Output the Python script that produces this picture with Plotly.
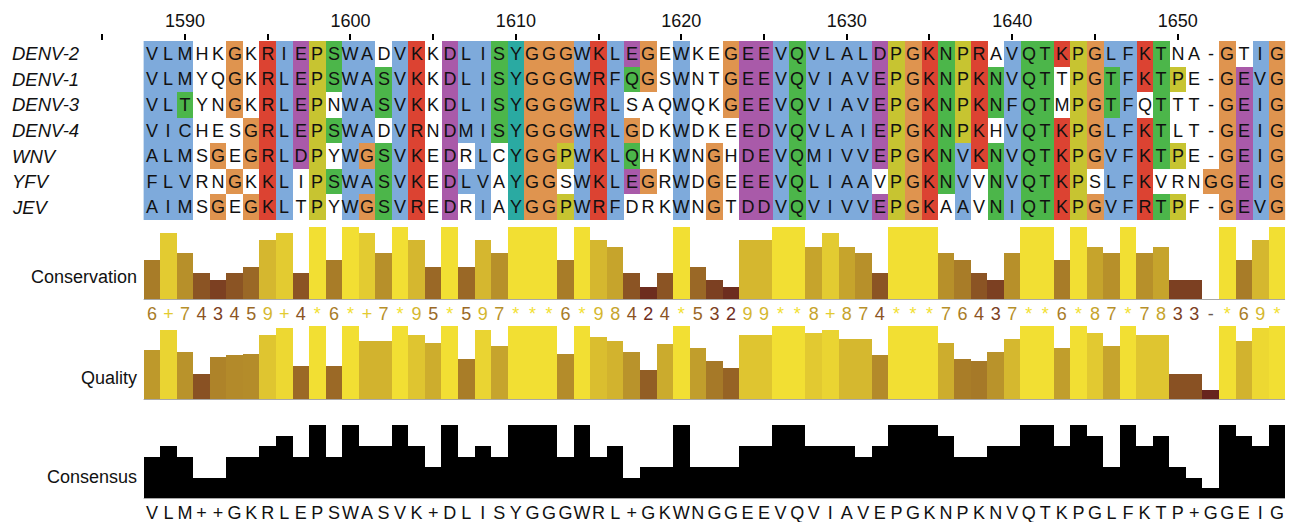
import plotly.graph_objects as go

W, H = 1298, 522
FONT = "Liberation Sans, Arial, Helvetica, sans-serif"

# ---------------- data ----------------
start_pos = 1588
names = ["DENV-2", "DENV-1", "DENV-3", "DENV-4", "WNV", "YFV", "JEV"]
seqs = [
    "VLMHKGKRIEPSWADVKKDLISYGGGWKLEGEWKEGEEVQVLALDPGKNPRAVQTKPGLFKTNA-GTIG",
    "VLMYQGKRLEPSWASVKKDLISYGGGWRFQGSWNTGEEVQVIAVEPGKNPKNVQTTPGTFKTPE-GEVG",
    "VLTYNGKRLEPNWASVKKDLISYGGGWRLSAQWQKGEEVQVIAVEPGKNPKNFQTMPGTFQTTT-GEIG",
    "VICHESGRLEPSWADVRNDMISYGGGWRLGDKWDKEEDVQVLAIEPGKNPKHVQTKPGLFKTLT-GEIG",
    "ALMSGEGRLDPYWGSVKEDRLCYGGPWKLQHKWNGHDEVQMIVVEPGKNVKNVQTKPGVFKTPE-GEIG",
    "FLVRNGKKLIPSWASVKEDLVAYGGSWKLEGRWDGEEEVQLIAAVPGKNVVNVQTKPSLFKVRNGGEIG",
    "AIMSGEGKLTPYWGSVREDRIAYGGPWRFDRKWNGTDDVQVIVVEPGKAAVNIQTKPGVFRTPF-GEVG",
]
# Clustal colour class of every residue cell (. = uncoloured)
colour_codes = [
    "bbb..o.rbm" "ygbb.br.mb" "bgcooobrbm" "o.b..ommbg" "bbbbmyorgy" "r.bggryobb" "rg...o.bo",
    "bbb..o.rbm" "ygbbgbr.mb" "bgcooobrbg" "o.b..ommbg" "bbbbmyorgy" "rgbgg.yogb" "rgy..ombo",
    "bbg..o.rbm" "y.bbgbr.mb" "bgcooobrb." "..b..ommbg" "bbbbmyorgy" "rgbgg.yogb" ".g...ombo",
    "bbb...orbm" "ygbb.br.mb" "bgcooobrbo" "..b...mmbg" "bbbbmyorgy" "r.bggryobb" "rg...ombo",
    "bbb.o.orbm" "y.bogbr.m." "b.cooybrbg" "..b.o.mmbg" "bbbbmyorgb" "rgbggryobb" "rgy..ombo",
    "bbb..o.rb." "ygbbgbr.mb" "b.coo.brbm" "o.b.o.mmbg" "bbbb.yorgb" ".gbggry.bb" "r...oombo",
    "bbb.o.orb." "y.bogbr.m." "b.cooybrb." "..b.o.mmbg" "bbbbmyor.b" ".gbggryobb" "rgy..ombo",
]
conservation_symbols = "6+743459+4*6*+7*95*597***6*98424*53299**8+874***76437**6*87*7833-*69*"
quality = [
    0.68, 0.95, 0.65, 0.35, 0.58, 0.61, 0.62, 0.88, 0.97, 0.46,
    1.00, 0.46, 1.00, 0.80, 0.80, 1.00, 0.88, 0.77, 1.00, 0.55,
    0.95, 0.73, 1.00, 1.00, 1.00, 0.62, 1.00, 0.85, 0.80, 0.65,
    0.41, 0.76, 1.00, 0.70, 0.53, 0.43, 0.88, 0.88, 1.00, 1.00,
    0.90, 0.95, 0.82, 0.82, 0.61, 1.00, 1.00, 1.00, 0.77, 0.55,
    0.53, 0.65, 0.82, 1.00, 1.00, 0.70, 1.00, 0.90, 0.73, 1.00,
    0.88, 0.88, 0.35, 0.35, 0.14, 1.00, 0.80, 0.97, 1.00,
]
consensus_counts = [
    4, 5, 4, 2, 2, 4, 4, 5, 6, 4,
    7, 4, 7, 5, 5, 7, 5, 3, 7, 4,
    5, 4, 7, 7, 7, 4, 7, 4, 5, 2,
    3, 3, 7, 3, 3, 3, 5, 5, 7, 7,
    5, 5, 5, 4, 5, 7, 7, 7, 6, 4,
    4, 5, 5, 7, 7, 5, 7, 6, 3, 7,
    5, 6, 3, 2, 1, 7, 6, 5, 7,
]
consensus_letters = "VLM++GKRLEPSWASVK+DLISYGGGWRL+GKWNGGEEVQVIAVEPGKNPKNVQTKPGLFKTP+GGEIG"
tick_values = [1585, 1590, 1595, 1600, 1605, 1610, 1615, 1620, 1625, 1630, 1635, 1640, 1645, 1650]
tick_labels = ["" if v % 10 else str(v) for v in tick_values]

# ---------------- styling helpers ----------------
ncol = len(seqs[0])
positions = [start_pos + i for i in range(ncol)]
code_order = [".", "b", "r", "m", "g", "o", "y", "c"]
code_colours = ["#ffffff", "#7eaadb", "#dc4332", "#a95aa9", "#4cb64a", "#df944f", "#c7c431", "#2aaaa2"]

def grad(f):
    lo = (80, 5, 27)
    hi = (242, 223, 51)
    f = max(0.0, min(1.0, f))
    return "rgb(%d,%d,%d)" % tuple(round(a + (b - a) * f) for a, b in zip(lo, hi))

def sym_value(s):
    if s == "*":
        return 11
    if s == "+":
        return 10
    if s == "-":
        return 0
    return int(s)

cons_vals = [sym_value(s) for s in conservation_symbols]
cons_cols = [grad(v / 11) for v in cons_vals]
sym_cols = [grad(v / 11) if v > 0 else "#6a5a50" for v in cons_vals]
qual_cols = [grad(q) for q in quality]

# pixel geometry -> paper
def py(p):
    return 1 - p / H

x0px, x1px = 94.0, 1285.2
xdom = [x0px / W, x1px / W]
xrange = [tick_values[0] - 0.5, positions[-1] + 0.5]

fig = go.Figure()

# alignment heatmap
z = [[code_order.index(c) for c in row] for row in colour_codes]
n = len(code_colours)
cscale = []
for i, c in enumerate(code_colours):
    cscale.append([i / n, c])
    cscale.append([(i + 1) / n, c])
fig.add_trace(go.Heatmap(
    x=positions, y=list(range(len(names))), z=z,
    text=[list(s) for s in seqs], texttemplate="%{text}",
    textfont=dict(family=FONT, size=18, color="#111111"),
    colorscale=cscale, zmin=-0.5, zmax=n - 0.5, showscale=False,
    hoverinfo="skip", xaxis="x", yaxis="y",
))

# baselines
for xa, ya in [("x2", "y2"), ("x3", "y3"), ("x4", "y4")]:
    fig.add_trace(go.Scatter(
        x=[positions[0] - 0.5, positions[-1] + 0.5], y=[0, 0], mode="lines",
        line=dict(color="#a8a8a8", width=2), hoverinfo="skip",
        xaxis=xa, yaxis=ya, showlegend=False, cliponaxis=False,
    ))

# conservation
fig.add_trace(go.Bar(
    x=positions, y=cons_vals, width=1, marker=dict(color=cons_cols, line=dict(width=0)),
    hoverinfo="skip", xaxis="x2", yaxis="y2", showlegend=False,
))
fig.add_trace(go.Scatter(
    x=positions, y=[0.5] * ncol, mode="text", text=list(conservation_symbols),
    textfont=dict(family=FONT, size=18, color=sym_cols), cliponaxis=False,
    hoverinfo="skip", xaxis="x5", yaxis="y5", showlegend=False,
))

# quality
fig.add_trace(go.Bar(
    x=positions, y=quality, width=1, marker=dict(color=qual_cols, line=dict(width=0)),
    hoverinfo="skip", xaxis="x3", yaxis="y3", showlegend=False,
))

# consensus
fig.add_trace(go.Bar(
    x=positions, y=consensus_counts, width=1, marker=dict(color="#000000", line=dict(width=0)),
    hoverinfo="skip", xaxis="x4", yaxis="y4", showlegend=False,
))
fig.add_trace(go.Scatter(
    x=positions, y=[0.5] * ncol, mode="text", text=list(consensus_letters),
    textfont=dict(family=FONT, size=18, color="#111111"), cliponaxis=False,
    hoverinfo="skip", xaxis="x6", yaxis="y6", showlegend=False,
))

hidden_x = dict(domain=xdom, range=xrange, showgrid=False, zeroline=False,
                showticklabels=False, ticks="", showline=False, fixedrange=True)
fig.update_layout(
    width=W, height=H,
    margin=dict(l=0, r=0, t=0, b=0),
    paper_bgcolor="white", plot_bgcolor="rgba(0,0,0,0)",
    bargap=0, showlegend=False,
    font=dict(family=FONT, size=18, color="#111111"),
    xaxis=dict(domain=xdom, range=xrange, side="top", anchor="y",
               tickvals=tick_values, ticktext=tick_labels, ticks="outside",
               ticklen=6, tickwidth=2, tickcolor="#000", showgrid=False,
               zeroline=False, showline=False, tickfont=dict(size=18, family=FONT)),
    yaxis=dict(domain=[py(220), py(41)], range=[len(names) - 0.5, -0.5],
               showticklabels=False, showgrid=False, zeroline=False, ticks=""),
    xaxis2=dict(hidden_x, anchor="y2"),
    yaxis2=dict(domain=[py(300), py(226.7)], range=[0, 11], visible=False),
    xaxis5=dict(hidden_x, anchor="y5"),
    yaxis5=dict(domain=[py(325), py(305)], range=[0, 1], visible=False),
    xaxis3=dict(hidden_x, anchor="y3"),
    yaxis3=dict(domain=[py(400), py(326)], range=[0, 1], visible=False),
    xaxis4=dict(hidden_x, anchor="y4"),
    yaxis4=dict(domain=[py(499), py(425)], range=[0, 7], visible=False),
    xaxis6=dict(hidden_x, anchor="y6"),
    yaxis6=dict(domain=[py(522), py(506)], range=[0, 1], visible=False),
)

# sequence names
for i, nm in enumerate(names):
    fig.add_annotation(x=10 / W, xref="paper", y=i, yref="y", text="<i>%s</i>" % nm,
                       showarrow=False, xanchor="left", yanchor="middle",
                       font=dict(family=FONT, size=18.5, color="#111111"))

# annotation row labels
for label, ypx in [("Conservation", 277), ("Quality", 378), ("Consensus", 477)]:
    fig.add_annotation(x=139 / W, xref="paper", y=py(ypx), yref="paper", text=label,
                       showarrow=False, xanchor="right", yanchor="middle",
                       font=dict(family=FONT, size=18, color="#111111"))

fig.write_html(
    "out.html",
    config={"displayModeBar": False, "staticPlot": True},
    post_script="document.body.style.margin='0';document.body.style.padding='0';"
                "document.body.style.overflow='hidden';",
)
